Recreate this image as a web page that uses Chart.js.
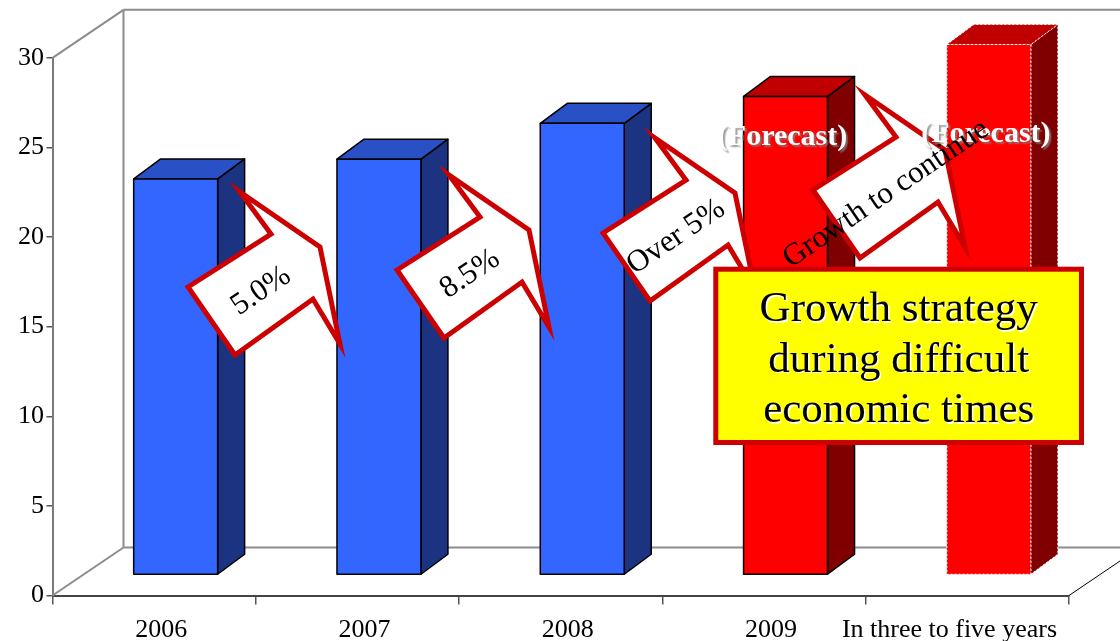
<!DOCTYPE html>
<html>
<head>
<meta charset="utf-8">
<script src="https://cdn.jsdelivr.net/npm/chart.js@4.4.1/dist/chart.umd.min.js"></script>
<style>
  html, body { margin: 0; padding: 0; background: #fff; }
  canvas { display: block; }
</style>
</head>
<body>
<canvas id="chart" width="1120" height="641"></canvas>
<script>
// data
const categories = ['2006', '2007', '2008', '2009', 'In three to five years'];
const values = [22.1, 23.2, 25.2, 26.7, 29.6];
const forecast = [false, false, false, true, true];
const growthNotes = ['5.0%', '8.5%', 'Over 5%', 'Growth to continue'];
const yMin = 0, yMax = 30, yStep = 5;
const boxLines = ['Growth strategy', 'during difficult', 'economic times'];

const SERIF = '"Liberation Serif", "Times New Roman", serif';
const WALL = { dx: 71, dy: -48 };
const BAR = { shiftX: 21.5, shiftY: -20.5, dx: 27, dy: -20 };
const blue = { front: '#3366ff', top: '#2a50c6', side: '#1b3380' };
const red = { front: '#ff0000', top: '#c00000', side: '#800000' };

// callout shape (screen coords relative to the box's left corner)
const ARROW = [[0, 0], [83, -53], [52, -95], [132, -40], [152, 57], [125, 12], [47, 68]];
const calloutAnchors = [[188, 287], [397, 270], [603, 233], [813, 190]];
const forecastBaseline = [null, null, null, 145, 141.5];

function line(ctx, x1, y1, x2, y2) {
  ctx.beginPath();
  ctx.moveTo(x1, y1);
  ctx.lineTo(x2, y2);
  ctx.stroke();
}

function poly(ctx, pts) {
  ctx.beginPath();
  ctx.moveTo(pts[0][0], pts[0][1]);
  for (let i = 1; i < pts.length; i++) ctx.lineTo(pts[i][0], pts[i][1]);
  ctx.closePath();
}

const walls = {
  id: 'walls',
  beforeDatasetsDraw(chart) {
    const { ctx, chartArea: a } = chart;
    const { dx, dy } = WALL;
    ctx.save();
    ctx.strokeStyle = '#8c8c8c';
    ctx.lineWidth = 2;
    line(ctx, a.left, a.top, a.left + dx, a.top + dy);
    line(ctx, a.left + dx, a.top + dy, chart.width, a.top + dy);
    line(ctx, a.left + dx, a.top + dy, a.left + dx, a.bottom + dy);
    line(ctx, a.left, a.bottom, a.left + dx, a.bottom + dy);
    line(ctx, a.left + dx, a.bottom + dy, a.right + dx, a.bottom + dy);
    ctx.strokeStyle = '#000';
    ctx.lineWidth = 1;
    line(ctx, a.right, a.bottom, a.right + dx, a.bottom + dy);
    ctx.restore();
  }
};

const bars3d = {
  id: 'bars3d',
  afterDatasetsDraw(chart) {
    const ctx = chart.ctx;
    const meta = chart.getDatasetMeta(0);
    meta.data.forEach((el, i) => {
      const c = forecast[i] ? red : blue;
      const x0 = el.x - el.width / 2 + BAR.shiftX;
      const x1 = x0 + el.width;
      const yt = el.y + BAR.shiftY;
      const yb = el.base + BAR.shiftY;
      const { dx, dy } = BAR;
      const side = [[x1, yt], [x1 + dx, yt + dy], [x1 + dx, yb + dy], [x1, yb]];
      const top = [[x0, yt], [x0 + dx, yt + dy], [x1 + dx, yt + dy], [x1, yt]];
      const front = [[x0, yt], [x1, yt], [x1, yb], [x0, yb]];
      const dotted = i === meta.data.length - 1;
      ctx.save();
      ctx.lineJoin = 'round';
      if (dotted) {
        ctx.strokeStyle = '#ffffff';
        ctx.lineWidth = 1;
        ctx.setLineDash([2, 2]);
      } else {
        ctx.strokeStyle = '#000000';
        ctx.lineWidth = 1.5;
      }
      [[side, c.side], [top, c.top], [front, c.front]].forEach(([pts, col]) => {
        poly(ctx, pts);
        ctx.fillStyle = col;
        ctx.fill();
        ctx.stroke();
      });
      ctx.restore();
    });
  }
};

const notes = {
  id: 'notes',
  afterDraw(chart) {
    const { ctx, chartArea: a } = chart;
    const xs = chart.scales.x;
    const meta = chart.getDatasetMeta(0);

    // category labels
    ctx.save();
    ctx.font = '26px ' + SERIF;
    ctx.fillStyle = '#000';
    ctx.textAlign = 'center';
    ctx.textBaseline = 'alphabetic';
    categories.forEach((c, i) => {
      let cx = xs.getPixelForValue(i) + 7;
      const w = ctx.measureText(c).width;
      const maxRight = a.right - 12;
      if (cx + w / 2 > maxRight) cx = maxRight - w / 2;
      ctx.fillText(c, cx, 636.5);
    });
    ctx.restore();

    // callout arrows
    ctx.save();
    ctx.lineWidth = 5;
    ctx.lineJoin = 'miter';
    ctx.strokeStyle = '#cc0000';
    ctx.fillStyle = '#ffffff';
    calloutAnchors.forEach(([ax, ay]) => {
      poly(ctx, ARROW.map(([px, py]) => [ax + px, ay + py]));
      ctx.fill();
      ctx.stroke();
    });
    ctx.restore();

    // forecast labels
    ctx.save();
    ctx.font = 'bold 30px ' + SERIF;
    ctx.textAlign = 'center';
    ctx.fillStyle = '#ffffff';
    ctx.shadowColor = 'rgba(130,130,130,0.8)';
    ctx.shadowOffsetX = 2;
    ctx.shadowOffsetY = 2;
    ctx.shadowBlur = 1.5;
    meta.data.forEach((el, i) => {
      if (!forecast[i]) return;
      ctx.fillText('(Forecast)', el.x + BAR.shiftX - 3, forecastBaseline[i]);
    });
    ctx.restore();

    // callout texts
    ctx.save();
    ctx.font = '31px ' + SERIF;
    ctx.fillStyle = '#000';
    ctx.textAlign = 'center';
    ctx.textBaseline = 'middle';
    growthNotes.forEach((t, i) => {
      const [ax, ay] = calloutAnchors[i];
      ctx.save();
      ctx.translate(ax + 73, ay + 4);
      ctx.rotate(-34 * Math.PI / 180);
      ctx.fillText(t, 0, 0);
      ctx.restore();
    });
    ctx.restore();

    // yellow message box
    ctx.save();
    ctx.fillStyle = '#ffff00';
    ctx.strokeStyle = '#cc0000';
    ctx.lineWidth = 5;
    ctx.fillRect(715.8, 269.2, 365.7, 173.3);
    ctx.strokeRect(715.8, 269.2, 365.7, 173.3);
    ctx.font = '43px ' + SERIF;
    ctx.textAlign = 'center';
    ctx.fillStyle = '#000';
    ctx.shadowColor = 'rgba(255,255,255,0.95)';
    ctx.shadowOffsetX = 1.5;
    ctx.shadowOffsetY = 1.5;
    boxLines.forEach((t, i) => ctx.fillText(t, 898.7, 321 + i * 50.5));
    ctx.restore();
  }
};

new Chart(document.getElementById('chart'), {
  type: 'bar',
  data: {
    labels: categories,
    datasets: [{
      data: values,
      backgroundColor: 'rgba(0,0,0,0)',
      borderWidth: 0,
      categoryPercentage: 1,
      barPercentage: 0.413
    }]
  },
  options: {
    responsive: false,
    animation: false,
    devicePixelRatio: 1,
    layout: { padding: { top: 57.8, right: 51, left: 0, bottom: 0 } },
    plugins: { legend: { display: false }, tooltip: { enabled: false } },
    scales: {
      x: {
        ticks: { display: false },
        grid: { drawOnChartArea: false, drawTicks: true, tickLength: 9, color: '#555', lineWidth: 1.5, offset: true },
        border: { color: '#444', width: 2 },
        afterFit(s) { s.height = 45.5; }
      },
      y: {
        min: yMin,
        max: yMax,
        ticks: { stepSize: yStep, color: '#000', font: { family: SERIF, size: 26 }, padding: 2.5 },
        grid: { drawOnChartArea: false, drawTicks: true, tickLength: 6, color: '#555', lineWidth: 1.5 },
        border: { color: '#7a7a7a', width: 2 },
        afterFit(s) { s.width = 52.5; }
      }
    }
  },
  plugins: [walls, bars3d, notes]
});
</script>
</body>
</html>
